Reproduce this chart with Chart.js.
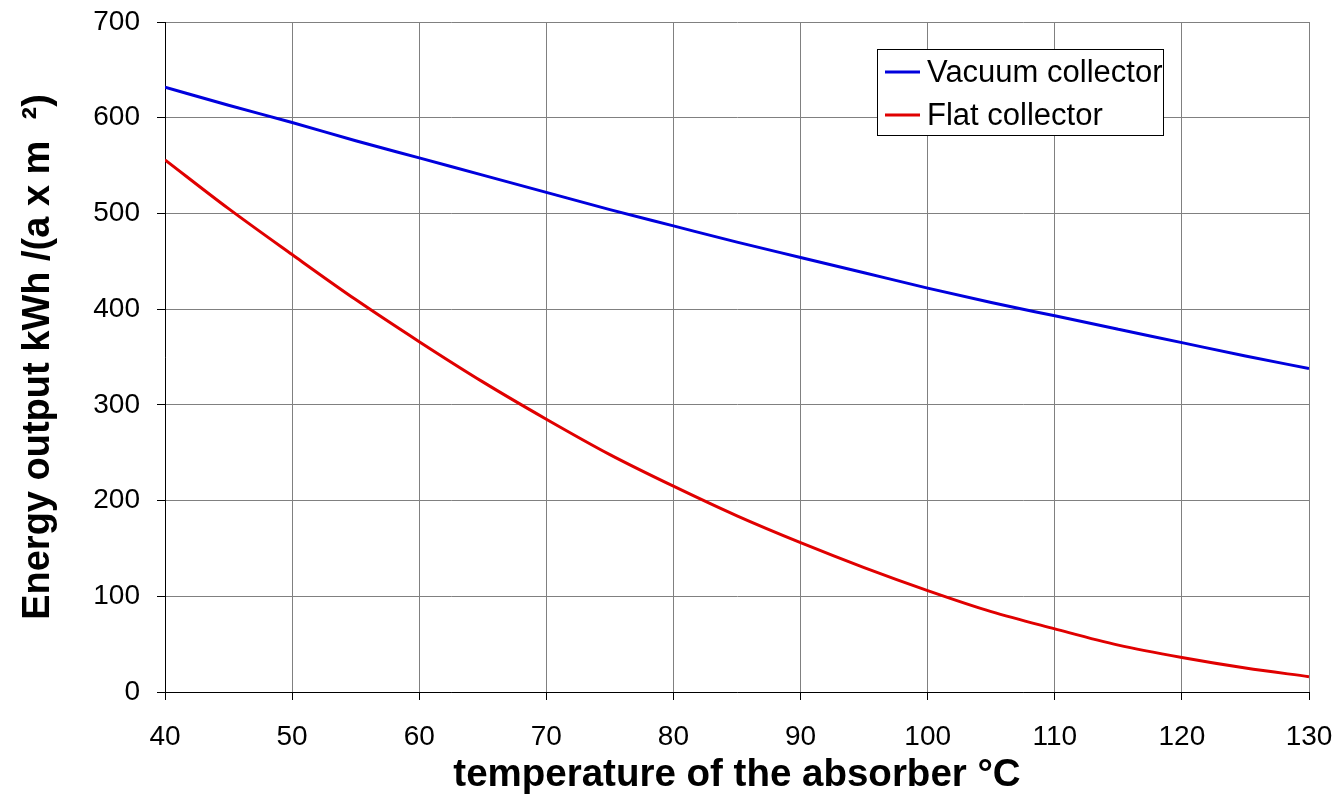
<!DOCTYPE html>
<html>
<head>
<meta charset="utf-8">
<script src="https://cdn.jsdelivr.net/npm/chart.js@4"></script>
<style>
  html, body { margin: 0; padding: 0; background: #fff; }
  #wrap { width: 1339px; height: 798px; }
</style>
</head>
<body>
<div id="wrap"><canvas id="chart"></canvas></div>
<script>
// temperature of the absorber (°C)
const temps = [40, 45, 50, 55, 60, 65, 70, 75, 80, 85, 90, 95, 100, 105, 110, 115, 120, 125, 130];
// energy output kWh/(a x m2)
const vacuumValues = [632, 613, 595, 576, 558, 540, 522, 504, 487, 470, 454, 438, 422, 407, 393, 379, 365, 351, 338];
const flatValues = [556, 505, 457, 410, 366, 324, 285, 248, 215, 184, 156, 130, 106, 84, 66, 49, 36, 25, 16];
const seriesNames = ['Vacuum collector', 'Flat collector'];
const seriesColors = ['#0000dd', '#e00000'];

const FONT = '"Liberation Sans", Arial, sans-serif';

// boxed legend inside the plot, like the spreadsheet original
const boxLegend = {
    id: 'boxLegend',
    afterDraw(chart) {
        const ctx = chart.ctx;
        const x = 877, y = 49, w = 286, h = 86;
        ctx.save();
        ctx.fillStyle = '#fff';
        ctx.fillRect(x, y, w, h);
        ctx.font = '31px ' + FONT;
        ctx.textBaseline = 'middle';
        ctx.beginPath();
        ctx.rect(x, y, w, h);
        ctx.clip();
        chart.data.datasets.forEach((ds, i) => {
            const cy = y + 23 + i * 43;
            ctx.strokeStyle = ds.borderColor;
            ctx.lineWidth = 3;
            ctx.beginPath();
            ctx.moveTo(x + 8, cy);
            ctx.lineTo(x + 43, cy);
            ctx.stroke();
            ctx.fillStyle = '#000';
            ctx.fillText(ds.label, x + 50, cy + 1);
        });
        ctx.restore();
        ctx.save();
        ctx.strokeStyle = '#000';
        ctx.lineWidth = 1;
        ctx.strokeRect(x + 0.5, y + 0.5, w, h);
        ctx.restore();
    }
};

new Chart(document.getElementById('chart'), {
    type: 'line',
    data: {
        datasets: [
            { label: seriesNames[0], data: temps.map((t, i) => ({ x: t, y: vacuumValues[i] })), borderColor: seriesColors[0] },
            { label: seriesNames[1], data: temps.map((t, i) => ({ x: t, y: flatValues[i] })), borderColor: seriesColors[1] }
        ]
    },
    options: {
        responsive: true,
        maintainAspectRatio: false,
        animation: false,
        layout: { padding: { top: 22, right: 30, left: 0, bottom: 0 } },
        elements: {
            point: { radius: 0 },
            line: { borderWidth: 3, tension: 0.4, cubicInterpolationMode: 'monotone' }
        },
        plugins: {
            legend: { display: false },
            tooltip: { enabled: false }
        },
        scales: {
            x: {
                type: 'linear',
                min: 40,
                max: 130,
                ticks: { stepSize: 10, color: '#000', font: { family: FONT, size: 28 }, padding: 20 },
                grid: { color: '#808080', lineWidth: 1, tickColor: '#000', tickLength: 8 },
                border: { color: '#000', width: 1 },
                title: {
                    display: true,
                    text: 'temperature of the absorber °C',
                    color: '#000',
                    font: { family: FONT, size: 38.5, weight: 'bold' },
                    padding: { top: 0, bottom: 0 }
                },
                afterFit(scale) {
                    scale.height = 106;
                    scale.paddingLeft = 0;
                    scale.paddingRight = 0;
                }
            },
            y: {
                min: 0,
                max: 700,
                ticks: { stepSize: 100, color: '#000', font: { family: FONT, size: 28 }, padding: 17 },
                grid: { color: '#808080', lineWidth: 1, tickColor: '#000', tickLength: 8 },
                border: { color: '#000', width: 1 },
                title: {
                    display: true,
                    text: 'Energy output kWh /(a x m  ²)',
                    color: '#000',
                    font: { family: FONT, size: 38, weight: 'bold' },
                    padding: { top: 16, bottom: 0 }
                },
                afterFit(scale) {
                    scale.width = 165;
                    scale.paddingTop = 0;
                    scale.paddingBottom = 0;
                }
            }
        }
    },
    plugins: [boxLegend]
});
</script>
</body>
</html>
